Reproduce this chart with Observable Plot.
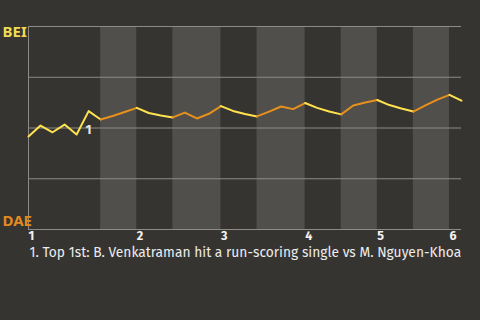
<!DOCTYPE html>
<html>
<head>
<meta charset="utf-8">
<script src="https://cdn.jsdelivr.net/npm/d3@7"></script>
<script src="https://cdn.jsdelivr.net/npm/@observablehq/plot@0.6"></script>
<style>
  html, body { margin: 0; padding: 0; background: #363431; width: 480px; height: 320px; overflow: hidden; }
</style>
</head>
<body>
<div id="chart"></div>
<script>
// Win probability for BEI (top of chart) after each plate appearance
const winProb = [0.458,0.512,0.479,0.517,0.468,0.583,0.542,
  0.559,0.579,0.599,
  0.574,0.562,0.552,
  0.576,0.547,0.570,0.608,
  0.584,0.569,0.557,
  0.581,0.606,0.593,0.623,
  0.599,0.581,0.567,
  0.611,0.626,0.638,
  0.613,0.596,0.581,
  0.611,0.640,0.663,
  0.635];
// half-inning boundaries (event index)
const halfStart = [0, 6, 9, 12, 16, 19, 23, 26, 29, 32, 35];
const halfEnd   = [6, 9, 12, 16, 19, 23, 26, 29, 32, 35, 36];
const halfSide  = ["top","bottom","top","bottom","top","bottom","top","bottom","top","bottom","top"];
// inning ticks
const inningTicks = [0, 9, 16, 23, 29, 35];
const inningLabels = ["1","2","3","4","5","6"];
// teams
const teamNames = ["BEI", "DAE"];
const teamValues = [1, 0];
// annotations
const noteIdx = [5];
const noteLabels = ["1"];
const noteTexts = ["1. Top 1st: B. Venkatraman hit a run-scoring single vs M. Nguyen-Khoa"];
const gridValues = [0, 0.25, 0.5, 0.75, 1];

const colYellow = "#ffe24f";
const colOrange = "#e8901c";
const colTop = "#f0dc50";
const colBottomLbl = "#e38a1e";

const segments = [];
halfStart.forEach((s, k) => {
  for (let i = s; i <= halfEnd[k]; i++) segments.push({seg: k, side: halfSide[k], x: i, y: winProb[i]});
});
const bands = halfStart.map((s, k) => ({x1: s, x2: halfEnd[k], side: halfSide[k]})).filter(d => d.side === "bottom");
const notes = noteIdx.map((i, k) => ({x: i, y: winProb[i], label: noteLabels[k]}));
const ticks = inningTicks.map((t, k) => ({x: t, label: inningLabels[k]}));

const font = "'Fira Sans', 'Noto Sans', sans-serif";
const teamFont = "'Liberation Sans Narrow', 'Noto Sans', sans-serif";

const chart = Plot.plot({
  width: 480,
  height: 320,
  marginTop: 26,
  marginLeft: 28,
  marginRight: 19,
  marginBottom: 91,
  style: {background: "#363431", fontFamily: font},
  x: {domain: [0, 36], axis: null},
  y: {domain: [0, 1], axis: null},
  marks: [
    Plot.rectX(bands, {x1: "x1", x2: "x2", y1: 0, y2: 1, fill: "#504f4c"}),
    Plot.ruleY(gridValues, {stroke: "#8c8b88", strokeWidth: 1}),
    Plot.ruleX([0], {stroke: "#8c8b88", strokeWidth: 1}),
    Plot.line(segments, {x: "x", y: "y", z: "seg", stroke: d => d.side === "top" ? colYellow : colOrange, strokeWidth: 2, curve: "linear"}),
    Plot.text(notes, {x: "x", y: "y", text: "label", dy: 19, fill: "#e6e6e6", fontWeight: "bold", fontSize: 13}),
    Plot.text(ticks, {x: "x", text: "label", frameAnchor: "bottom", dy: 10.5, textAnchor: "start", fill: "#f2f2f2", fontWeight: "bold", fontSize: 12.5}),
    Plot.text([teamNames[0]], {y: teamValues[0], text: d => d, frameAnchor: "left", dx: -26, dy: 0, textAnchor: "start",
      lineAnchor: "top", fill: colTop, fontWeight: "bold", fontSize: 15, fontFamily: teamFont}),
    Plot.text([teamNames[1]], {y: teamValues[1], text: d => d, frameAnchor: "left", dx: -26, dy: -4, textAnchor: "start",
      lineAnchor: "bottom", fill: colBottomLbl, fontWeight: "bold", fontSize: 15, fontFamily: teamFont}),
    Plot.text(noteTexts, {frameAnchor: "bottom-left", dy: 27.5, dx: 1, textAnchor: "start", fill: "#ececec", fontSize: 13.8})
  ]
});
document.getElementById("chart").appendChild(chart);
</script>
</body>
</html>
